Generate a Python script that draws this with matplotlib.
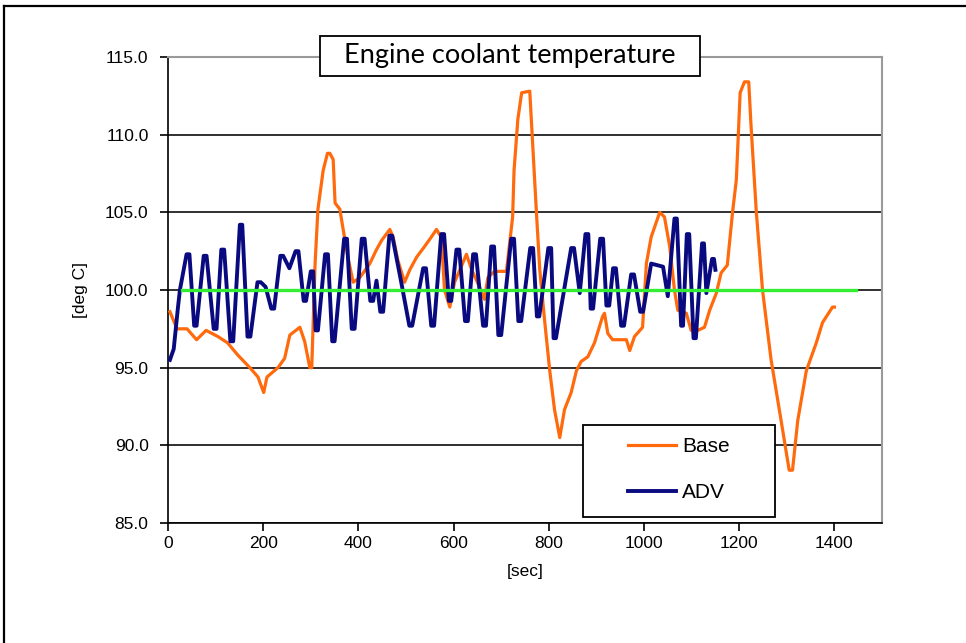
import matplotlib
matplotlib.use("Agg")
import matplotlib.pyplot as plt
from matplotlib.lines import Line2D
from matplotlib.patches import Rectangle

# Base coolant temperature [sec], [deg C]
base_t = [4, 19, 40, 60, 80, 105, 125, 147, 172, 189, 201, 208, 231, 245, 256,
          277, 287, 298, 302, 309, 315, 326, 335, 340, 347, 351, 361, 368, 378,
          389, 403, 424, 438, 449, 466, 473, 483, 497, 508, 522, 539, 553, 564,
          574, 581, 592, 602, 627, 638, 650, 665, 672, 686, 711, 724, 727, 735,
          743, 760, 767, 774, 781, 791, 802, 812, 823, 833, 847, 858, 868, 882,
          896, 913, 917, 924, 934, 963, 970, 980, 997, 1005, 1015, 1033, 1043,
          1054, 1064, 1071, 1089, 1099, 1113, 1127, 1138, 1152, 1162, 1175,
          1186, 1194, 1202, 1211, 1220, 1225, 1236, 1249, 1267, 1288, 1305,
          1312, 1323, 1341, 1362, 1375, 1396, 1400]
base_v = [98.6, 97.5, 97.5, 96.8, 97.4, 97.0, 96.6, 95.8, 95.0, 94.4, 93.4,
          94.4, 95.0, 95.6, 97.1, 97.6, 96.7, 95.0, 95.0, 101.7, 105.2, 107.7,
          108.8, 108.8, 108.4, 105.6, 105.2, 103.9, 102.1, 100.5, 100.8, 101.7,
          102.6, 103.2, 103.9, 103.4, 101.9, 100.5, 101.3, 102.1, 102.8, 103.4,
          103.9, 103.4, 100.0, 98.9, 100.5, 102.3, 101.3, 100.5, 99.4, 100.8,
          101.2, 101.2, 104.7, 107.7, 111.0, 112.7, 112.8, 108.9, 105.0, 101.3,
          98.1, 94.8, 92.3, 90.5, 92.3, 93.4, 94.8, 95.4, 95.7, 96.6, 98.3,
          98.5, 97.2, 96.8, 96.8, 96.1, 97.0, 97.6, 101.7, 103.4, 105.0, 104.7,
          102.8, 100.0, 98.7, 98.5, 97.4, 97.4, 97.6, 98.7, 99.8, 101.1, 101.6,
          105.0, 107.1, 112.7, 113.4, 113.4, 110.5, 105.0, 100.0, 95.5, 91.6,
          88.4, 88.4, 91.6, 94.8, 96.6, 97.9, 98.9, 98.9]

# ADV coolant temperature [sec], [deg C]
adv_t = [4, 12, 21, 25, 39, 45, 55, 60, 75, 81, 96, 102, 112, 118, 131, 137,
         151, 156, 167, 173, 188, 195, 205, 217, 223, 236, 242, 255, 268, 274,
         285, 290, 300, 305, 310, 315, 330, 336, 345, 350, 370, 376, 386, 392,
         407, 413, 425, 431, 438, 446, 452, 465, 471, 490, 507, 513, 536, 542,
         553, 559, 574, 580, 590, 595, 606, 612, 624, 630, 641, 647, 662, 668,
         679, 685, 694, 700, 721, 727, 736, 742, 761, 767, 775, 780, 799, 805,
         810, 815, 847, 853, 865, 877, 883, 888, 893, 908, 914, 921, 927, 935,
         941, 952, 958, 973, 979, 992, 998, 1015, 1040, 1050, 1064, 1069, 1078,
         1082, 1090, 1095, 1104, 1109, 1122, 1126, 1131, 1143, 1147, 1150]
adv_v = [95.5, 96.2, 98.9, 100.0, 102.3, 102.3, 97.7, 97.7, 102.2, 102.2, 97.5,
         97.5, 102.6, 102.6, 96.7, 96.7, 104.2, 104.2, 97.0, 97.0, 100.5, 100.5,
         100.2, 98.8, 98.8, 102.2, 102.2, 101.4, 102.5, 102.5, 99.3, 99.3, 101.2,
         101.2, 97.4, 97.4, 102.3, 102.3, 96.7, 96.7, 103.3, 103.3, 97.5, 97.5,
         103.3, 103.3, 99.3, 99.3, 100.6, 98.6, 98.6, 103.5, 103.5, 100.5, 97.7,
         97.7, 101.4, 101.4, 97.7, 97.7, 103.6, 103.6, 99.3, 99.3, 102.6, 102.6,
         98.0, 98.0, 102.3, 102.3, 97.7, 97.7, 102.8, 102.8, 97.1, 97.1, 103.3,
         103.3, 98.0, 98.0, 102.7, 102.7, 98.3, 98.3, 102.7, 102.7, 96.9, 96.9,
         102.7, 102.7, 99.8, 103.6, 103.6, 98.8, 98.8, 103.3, 103.3, 99.0, 99.0,
         101.4, 101.4, 97.7, 97.7, 101.0, 101.0, 98.6, 98.6, 101.7, 101.5, 99.6,
         104.6, 104.6, 97.7, 97.7, 103.6, 103.6, 96.9, 96.9, 103.0, 103.0, 99.8,
         102.0, 102.0, 101.3]

# Target temperature line
target_t = [30, 1445]
target_v = [100.0, 100.0]

x_ticks = [0, 200, 400, 600, 800, 1000, 1200, 1400]
y_ticks = [85.0, 90.0, 95.0, 100.0, 105.0, 110.0, 115.0]

W, H = 966, 643
fig = plt.figure(figsize=(W / 100, H / 100), dpi=100)
ax = fig.add_axes([168 / W, 1 - 523 / H, (882 - 168) / W, (523 - 57) / H])

ax.set_xlim(0, 1500)
ax.set_ylim(85, 115)
ax.set_xticks(x_ticks)
ax.set_yticks(y_ticks)
ax.set_yticklabels([f"{v:.1f}" for v in y_ticks])

ax.grid(axis="y", color="#303030", linewidth=1.4, zorder=0)
ax.set_axisbelow(True)

ax.plot(base_t, base_v, color="#ff6a0d", linewidth=2.3, label="Base", zorder=3)
ax.plot(adv_t, adv_v, color="#0a0a80", linewidth=2.8, label="ADV", zorder=4,
        solid_joinstyle="round")
ax.plot(target_t, target_v, color="#33ee33", linewidth=2.4, zorder=5)

for s in ("top", "right"):
    ax.spines[s].set_color("#9a9a9a")
    ax.spines[s].set_linewidth(1.5)
for s in ("left", "bottom"):
    ax.spines[s].set_color("black")
    ax.spines[s].set_linewidth(1.2)

ax.tick_params(axis="both", direction="out", length=6, width=1.2, color="black",
               labelsize=12.5)
ax.tick_params(axis="x", pad=3)
ax.tick_params(axis="y", pad=8)
for lab in ax.get_xticklabels() + ax.get_yticklabels():
    lab.set_fontfamily("Liberation Sans")

ax.set_xlabel("[sec]", fontfamily="Liberation Sans", fontsize=12.5, labelpad=10)
ax.set_ylabel("[deg C]", fontfamily="Liberation Sans", fontsize=12.5, labelpad=12)

# Legend: white framed box with the two series handles
px2ax_x = lambda px: (px - 168) / 714
px2ax_y = lambda py: (523 - py) / 466
ax.add_patch(Rectangle((px2ax_x(583), px2ax_y(517)),
                       px2ax_x(775) - px2ax_x(583), px2ax_y(425) - px2ax_y(517),
                       transform=ax.transAxes, facecolor="white",
                       edgecolor="black", linewidth=1.3, zorder=9))
leg = ax.legend(loc="upper left",
                bbox_to_anchor=(px2ax_x(622), px2ax_y(431)),
                frameon=False, prop={"family": "Liberation Sans", "size": 15},
                handlelength=2.3, handletextpad=0.3, labelspacing=1.3,
                borderpad=0.3, borderaxespad=0)
leg.set_zorder(10)

# Title box
fig.patches.append(Rectangle((320 / W, 1 - 76 / H), (700 - 320) / W, (76 - 36) / H,
                             transform=fig.transFigure, facecolor="white",
                             edgecolor="black", linewidth=1.3, zorder=20))
fig.text(510 / W, 1 - 56 / H, "Engine coolant temperature", ha="center",
         va="center", fontfamily="Lato", fontsize=19.5, zorder=21)

# Outer frame (left and top edges)
fig.add_artist(Line2D([4 / W, 4 / W], [0, 1 - 6 / H], transform=fig.transFigure,
                      color="black", linewidth=1.6))
fig.add_artist(Line2D([4 / W, 1], [1 - 6 / H, 1 - 6 / H], transform=fig.transFigure,
                      color="black", linewidth=1.6))

fig.savefig("out.png", dpi=100)
